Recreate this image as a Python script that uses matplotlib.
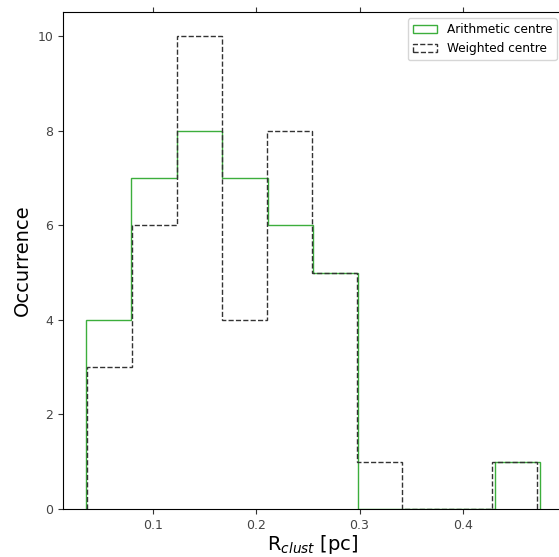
import numpy as np
import matplotlib
matplotlib.use("Agg")
import matplotlib.pyplot as plt

# bin edges and counts
edges_arith = np.linspace(0.035, 0.475, 11)
counts_arith = [4, 7, 8, 7, 6, 5, 0, 0, 0, 1]

edges_weight = np.linspace(0.036, 0.472, 11)
counts_weight = [3, 6, 10, 4, 8, 5, 1, 0, 0, 1]

fig = plt.figure(figsize=(5.59, 5.57), dpi=100)
ax = fig.add_axes([0.113, 0.086, 0.894, 0.892])

ax.hist(edges_arith[:-1], bins=edges_arith, weights=counts_arith,
        histtype='step', color='#3cae3c', lw=1, label='Arithmetic centre')
ax.hist(edges_weight[:-1], bins=edges_weight, weights=counts_weight,
        histtype='step', color='#333333', ls='--', lw=1, label='Weighted centre')

ax.set_ylim(0, 10.5)
ax.set_xticks([0.1, 0.2, 0.3, 0.4])
ax.set_yticks([0, 2, 4, 6, 8, 10])
ax.tick_params(top=True, labelsize=9, colors='#333333', labelcolor='#444444')
ax.set_xlabel(r'R$_{clust}$ [pc]', fontsize=14, labelpad=1)
ax.set_ylabel('Occurrence', fontsize=14)
ax.legend(loc='upper right', fontsize=8.7)

fig.savefig('out.png', dpi=100)
